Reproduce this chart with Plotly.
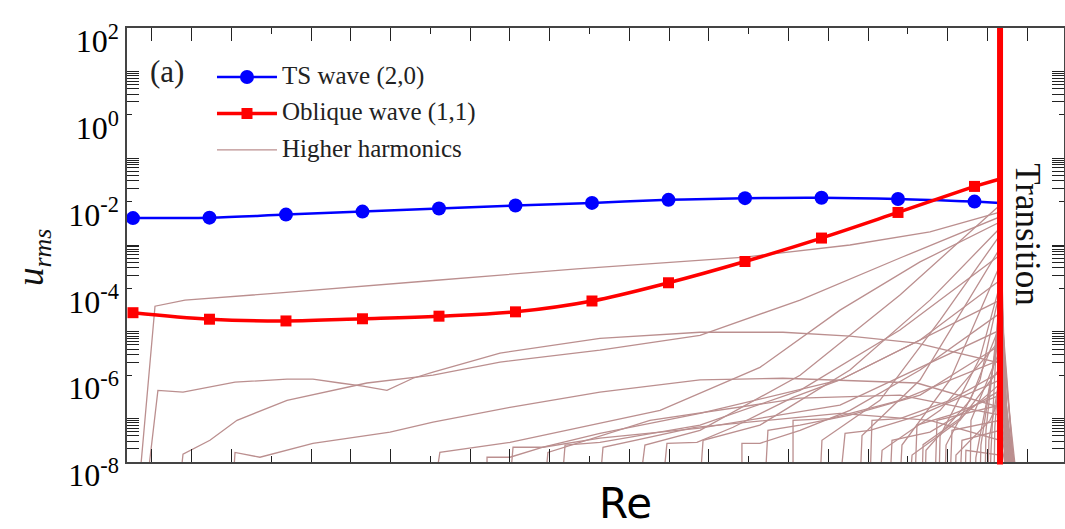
import plotly.graph_objects as go

# ---------------- data ----------------
# Reynolds-number stations (arbitrary units, markers every 50)
ts_re = [300, 350, 400, 450, 500, 550, 600, 650, 700, 750, 800, 850]
ts_exp = [-2.38, -2.37, -2.30, -2.23, -2.16, -2.09, -2.03, -1.96, -1.92, -1.91, -1.94, -2.00]
ob_exp = [-4.56, -4.71, -4.75, -4.70, -4.64, -4.54, -4.29, -3.87, -3.38, -2.84, -2.25, -1.65]

re_transition = 866.7
ts_end_exp = -2.03
ob_end_exp = -1.48

harm_re = [
    [304.6, 314.4, 334.0, 394.1, 492.2, 590.2, 700.0, 768.6, 820.9, 866.7, 871.9],
    [309.2, 316.3, 332.7, 350.3, 366.7, 400.7, 417.6, 435.3, 450.3, 466.0, 483.0, 496.1, 518.3, 539.9, 605.2, 670.6, 724.8, 768.6, 812.4, 866.7, 874.5],
    [330.7, 332.7, 350.3, 368.0, 400.7, 452.9, 496.1, 539.9, 605.2, 670.6, 736.0, 801.3, 866.7, 870.6],
    [365.4, 366.7, 383.0, 400.7, 417.6, 468.0, 496.1, 546.4, 605.2, 670.6, 724.8, 812.4, 866.7, 875.8],
    [497.4, 500.6, 546.4, 605.2, 644.5, 709.8, 762.1, 814.4, 866.7, 871.3],
    [531.4, 531.4, 546.4, 568.0, 605.2, 670.6, 762.1, 866.7, 872.6],
    [546.4, 548.4, 568.0, 605.2, 670.6, 762.1, 866.7, 873.9],
    [580.4, 582.4, 605.2, 670.6, 736.0, 801.3, 866.7, 871.9],
    [646.4, 649.0, 668.6, 692.2, 731.4, 762.1, 814.4, 866.7, 873.2],
    [698.0, 698.0, 709.8, 736.0, 768.6, 814.4, 866.7, 874.5],
    [713.1, 715.0, 736.0, 768.6, 814.4, 866.7, 875.2],
    [731.4, 731.4, 755.6, 801.3, 866.7, 876.5],
    [762.1, 765.4, 781.7, 814.4, 866.7, 877.1],
    [781.7, 783.0, 801.3, 834.0, 866.7, 877.8],
    [794.8, 796.1, 820.9, 866.7, 878.4],
    [811.1, 812.4, 834.0, 866.7, 879.1],
    [824.2, 825.5, 866.7, 879.7],
    [834.0, 835.3, 866.7, 877.8],
    [631.4, 634.6, 670.6, 736.0, 801.3, 866.7, 870.6],
    [670.6, 672.6, 709.8, 768.6, 820.9, 866.7, 869.9],
    [749.0, 750.3, 788.2, 827.5, 866.7, 871.3],
    [775.2, 776.5, 814.4, 866.7, 872.6],
    [801.3, 802.6, 834.0, 866.7, 873.2],
    [605.2, 607.2, 667.3, 762.1, 820.9, 866.7, 873.2],
    [840.5, 841.8, 866.7, 874.5],
    [847.1, 847.7, 866.7, 875.8],
    [853.6, 854.2, 866.7, 873.9],
    [856.9, 857.5, 866.7, 876.5],
    [860.1, 860.8, 866.7, 871.9],
    [830.7, 831.4, 853.6, 866.7, 876.5],
    [817.7, 818.3, 847.1, 866.7, 877.8],
    [837.3, 837.9, 860.1, 866.7, 878.4],
    [843.8, 844.4, 866.7, 873.2],
    [807.8, 809.2, 840.5, 866.7, 876.5],
    [788.2, 789.6, 827.5, 866.7, 874.5],
    [569.3, 571.2, 637.9, 736.0, 801.3, 866.7, 873.2],
    [850.3, 850.9, 866.7, 872.6],
    [858.8, 859.4, 866.7, 875.2],
    [862.7, 863.3, 866.7, 877.1],
    [826.8, 827.5, 853.6, 866.7, 871.3],
    [815.7, 816.4, 840.5, 866.7, 878.4],
]
harm_exp = [
    [-8.31, -4.41, -4.27, -4.11, -3.83, -3.55, -3.28, -3.00, -2.70, -2.24, -8.5],
    [-8.5, -6.35, -6.39, -6.28, -6.16, -6.09, -6.09, -6.18, -6.25, -6.35, -6.07, -5.93, -5.70, -5.49, -5.15, -5.01, -5.01, -5.10, -5.26, -5.72, -8.5],
    [-8.5, -7.82, -7.50, -7.04, -6.58, -6.18, -6.00, -5.70, -5.42, -5.08, -4.27, -3.30, -2.35, -8.5],
    [-8.5, -7.78, -7.89, -7.73, -7.57, -7.31, -7.08, -6.74, -6.39, -6.11, -6.07, -6.18, -6.74, -8.5],
    [-8.5, -7.78, -7.55, -7.11, -6.81, -5.82, -4.50, -3.39, -2.47, -8.5],
    [-8.5, -7.89, -7.89, -7.66, -7.34, -6.88, -6.11, -4.27, -8.5],
    [-8.5, -7.66, -7.66, -7.45, -7.22, -6.69, -4.96, -8.5],
    [-8.5, -7.61, -7.55, -7.15, -6.35, -4.96, -3.23, -8.5],
    [-8.5, -7.57, -7.55, -7.20, -6.51, -6.11, -5.19, -3.81, -8.5],
    [-8.5, -7.57, -7.57, -7.27, -6.81, -5.88, -4.57, -8.5],
    [-8.5, -7.27, -7.15, -6.92, -6.46, -5.31, -8.5],
    [-8.5, -7.04, -7.00, -6.58, -5.65, -8.5],
    [-8.5, -7.34, -7.27, -6.92, -6.11, -8.5],
    [-8.5, -7.04, -7.00, -6.58, -5.93, -8.5],
    [-8.5, -7.50, -7.31, -6.35, -8.5],
    [-8.5, -7.15, -6.92, -6.46, -8.5],
    [-8.5, -7.04, -6.69, -8.5],
    [-8.5, -7.27, -7.04, -8.5],
    [-8.5, -7.61, -7.27, -6.00, -4.15, -2.08, -8.5],
    [-8.5, -7.50, -7.15, -5.88, -4.27, -2.61, -8.5],
    [-8.5, -7.50, -6.58, -4.73, -2.77, -8.5],
    [-8.5, -7.39, -6.11, -3.07, -8.5],
    [-8.5, -7.61, -6.11, -3.46, -8.5],
    [-8.5, -7.66, -7.20, -6.88, -7.04, -7.50, -8.5],
    [-8.5, -7.50, -7.27, -8.5],
    [-8.5, -7.04, -5.42, -8.5],
    [-8.5, -7.61, -4.73, -8.5],
    [-8.5, -7.27, -4.27, -8.5],
    [-8.5, -7.73, -3.58, -8.5],
    [-8.5, -7.61, -6.11, -4.04, -8.5],
    [-8.5, -7.73, -6.58, -4.85, -8.5],
    [-8.5, -7.84, -7.04, -6.53, -8.5],
    [-8.5, -7.73, -7.84, -8.5],
    [-8.5, -7.84, -7.04, -5.84, -8.5],
    [-8.5, -7.73, -6.81, -5.19, -8.5],
    [-8.5, -7.78, -7.04, -6.53, -6.46, -6.92, -8.5],
    [-8.5, -7.90, -5.00, -8.5],
    [-8.5, -7.50, -6.00, -8.5],
    [-8.5, -7.20, -5.50, -8.5],
    [-8.5, -7.40, -5.60, -3.90, -8.5],
    [-8.5, -7.60, -7.00, -6.20, -8.5],
]

series_names = ["TS wave (2,0)", "Oblique wave (1,1)", "Higher harmonics"]

y_tick_exps = [-8, -6, -4, -2, 0, 2]
y_tick_text = ["10<sup>%d</sup>" % e for e in y_tick_exps]
# minor ticks: 2..9 and the odd power, in every second decade
y_minor = [k * 10.0 ** d for d in (-8, -6, -4, -2, 0) for k in range(2, 11)]

x_range = [296.1, 908.5]
x_minor_tick0, x_minor_dtick = 312.4, 26.0
x_major_tick0, x_major_dtick = 390.4, 104.0

# ---------------- figure ----------------
HARM = "#bb8f8f"
BLUE = "#0000ff"
RED = "#ff0000"
SERIF = "Liberation Serif"


def leg(name):
    return "<span style='font-size:25px'>%s</span>" % name


fig = go.Figure()

for i, (r, e) in enumerate(zip(harm_re, harm_exp)):
    fig.add_trace(go.Scatter(
        x=r, y=[10 ** v for v in e], mode="lines",
        line=dict(color=HARM, width=1.3),
        name=leg(series_names[2]), legendgroup="harm",
        showlegend=(i == 0), legendrank=3, hoverinfo="skip"))

fig.add_trace(go.Scatter(
    x=ts_re, y=[10 ** v for v in ts_exp], mode="lines+markers",
    line=dict(color=BLUE, width=2.5, shape="spline"),
    marker=dict(symbol="circle", size=14, color=BLUE),
    name=leg(series_names[0]), legendrank=1))
fig.add_trace(go.Scatter(
    x=[ts_re[-1], re_transition], y=[10 ** ts_exp[-1], 10 ** ts_end_exp],
    mode="lines", line=dict(color=BLUE, width=2.5), showlegend=False))

fig.add_trace(go.Scatter(
    x=ts_re, y=[10 ** v for v in ob_exp], mode="lines+markers",
    line=dict(color=RED, width=3.5, shape="spline"),
    marker=dict(symbol="square", size=11, color=RED),
    name=leg(series_names[1]), legendrank=2))
fig.add_trace(go.Scatter(
    x=[ts_re[-1], re_transition], y=[10 ** ob_exp[-1], 10 ** ob_end_exp],
    mode="lines", line=dict(color=RED, width=3.5), showlegend=False))

fig.add_shape(type="line", xref="x", yref="paper",
              x0=re_transition, x1=re_transition, y0=-0.006, y1=1,
              line=dict(color=RED, width=6))

axis_common = dict(showline=True, linecolor="#444444", linewidth=1.5,
                   mirror="ticks", showgrid=False, zeroline=False,
                   ticks="inside", tickcolor="#222222", tickwidth=1.3)

fig.update_xaxes(range=x_range, showticklabels=False,
                 tick0=x_major_tick0, dtick=x_major_dtick, ticklen=6,
                 minor=dict(ticks="inside", tick0=x_minor_tick0, dtick=x_minor_dtick,
                            ticklen=13, tickcolor="#222222", tickwidth=1.3),
                 **axis_common)

fig.update_yaxes(type="log", range=[-8, 2],
                 tickmode="array", tickvals=[10.0 ** e for e in y_tick_exps],
                 ticktext=y_tick_text, ticklen=5,
                 tickfont=dict(family=SERIF, size=32, color="black"),
                 ticklabelshift=13, ticklabeloverflow="allow",
                 minor=dict(ticks="inside", tickmode="array", tickvals=y_minor,
                            ticklen=12, tickcolor="#222222", tickwidth=1.3),
                 **axis_common)

fig.add_annotation(text="(a)", xref="paper", yref="paper", x=0.0427, y=0.899,
                   xanchor="center", yanchor="middle",
                   showarrow=False, font=dict(family=SERIF, size=31, color="#222"))
fig.add_annotation(text="Transition", xref="paper", yref="paper", x=0.9616, y=0.525,
                   xanchor="center", yanchor="middle",
                   textangle=90, showarrow=False,
                   font=dict(family=SERIF, size=35, color="#111"))
fig.add_annotation(text="<i>u</i><sub><i>rms</i></sub>", xref="paper", yref="paper",
                   x=-0.1003, y=0.47, xanchor="center", yanchor="middle",
                   textangle=-90, showarrow=False,
                   font=dict(family=SERIF, size=37, color="#111"))
fig.add_annotation(text="Re", xref="paper", yref="paper", x=0.5315, y=-0.0945,
                   xanchor="center", yanchor="middle",
                   showarrow=False, font=dict(family="DejaVu Sans", size=42, color="black"))

fig.update_layout(
    width=1065, height=529,
    margin=dict(l=127, r=1, t=28, b=67, autoexpand=False),
    paper_bgcolor="white", plot_bgcolor="white",
    showlegend=True,
    legend=dict(x=0.0907, y=0.929, xanchor="left", yanchor="top",
                bgcolor="rgba(0,0,0,0)", itemwidth=60,
                font=dict(family=SERIF, size=18, color="#222")),
)

fig.write_html("out.html")
